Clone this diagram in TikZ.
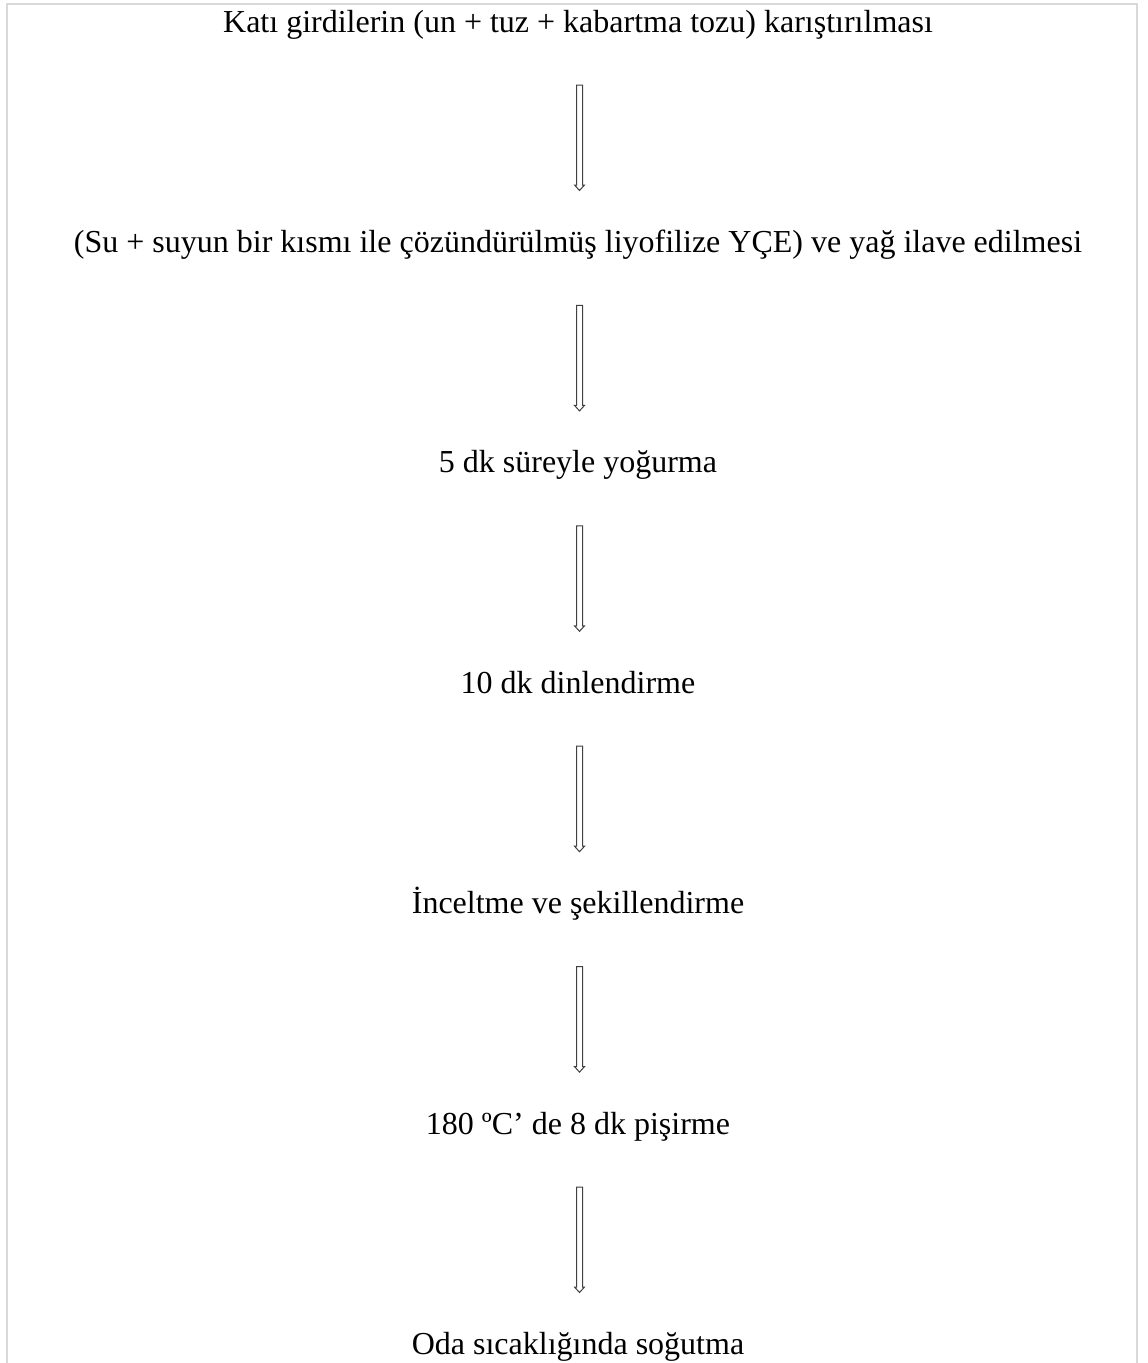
\documentclass[tikz,border=0pt]{standalone}
\usepackage{fontspec}
\setmainfont{Liberation Serif}
\usetikzlibrary{calc}
\tikzset{
  steptext/.style={anchor=base, inner sep=0pt, font=\fontsize{32}{38}\selectfont},
  arrowline/.style={draw=black!75, line width=1pt, fill=white, line join=miter},
  framecol/.style={draw=black!15, line width=2pt}
}
\newcommand\blockarrowdraw[2]{%
  \path (#1.base) ++(1.5pt,-53pt) coordinate (#1-top);
  \path (#2.base) ++(1.5pt,61.9pt) coordinate (#1-tip);
  \draw[arrowline] ($(#1-top)+(-3pt,0)$) -- ($(#1-top)+(3pt,0)$) -- ($(#1-tip)+(3pt,5.5pt)$) -- ($(#1-tip)+(5pt,5.5pt)$) -- (#1-tip) -- ($(#1-tip)+(-5pt,5.5pt)$) -- ($(#1-tip)+(-3pt,5.5pt)$) -- cycle;}
\begin{document}
\begin{tikzpicture}
\useasboundingbox (0,0) rectangle (1148pt,-1363pt);
\fill[white] (0,0) rectangle (1148pt,-1363pt);
\draw[framecol] (7pt,-1364pt) -- (7pt,-3.7pt) -- (1137pt,-3.7pt) -- (1137pt,-1364pt);
\node[steptext] (s1) at (578pt,-32pt) {Katı girdilerin (un + tuz + kabartma tozu) karıştırılması};
\node[steptext] (s2) at (578pt,-252.4pt) {(Su + suyun bir kısmı ile çözündürülmüş liyofilize YÇE) ve yağ ilave edilmesi};
\node[steptext] (s3) at (578pt,-472.8pt) {5 dk süreyle yoğurma};
\node[steptext] (s4) at (578pt,-693.2pt) {10 dk dinlendirme};
\node[steptext] (s5) at (578pt,-913.6pt) {İnceltme ve şekillendirme};
\node[steptext] (s6) at (578pt,-1134pt) {180 ºC’ de 8 dk pişirme};
\node[steptext] (s7) at (578pt,-1354.4pt) {Oda sıcaklığında soğutma};
\blockarrowdraw{s1}{s2}
\blockarrowdraw{s2}{s3}
\blockarrowdraw{s3}{s4}
\blockarrowdraw{s4}{s5}
\blockarrowdraw{s5}{s6}
\blockarrowdraw{s6}{s7}
\end{tikzpicture}
\end{document}
